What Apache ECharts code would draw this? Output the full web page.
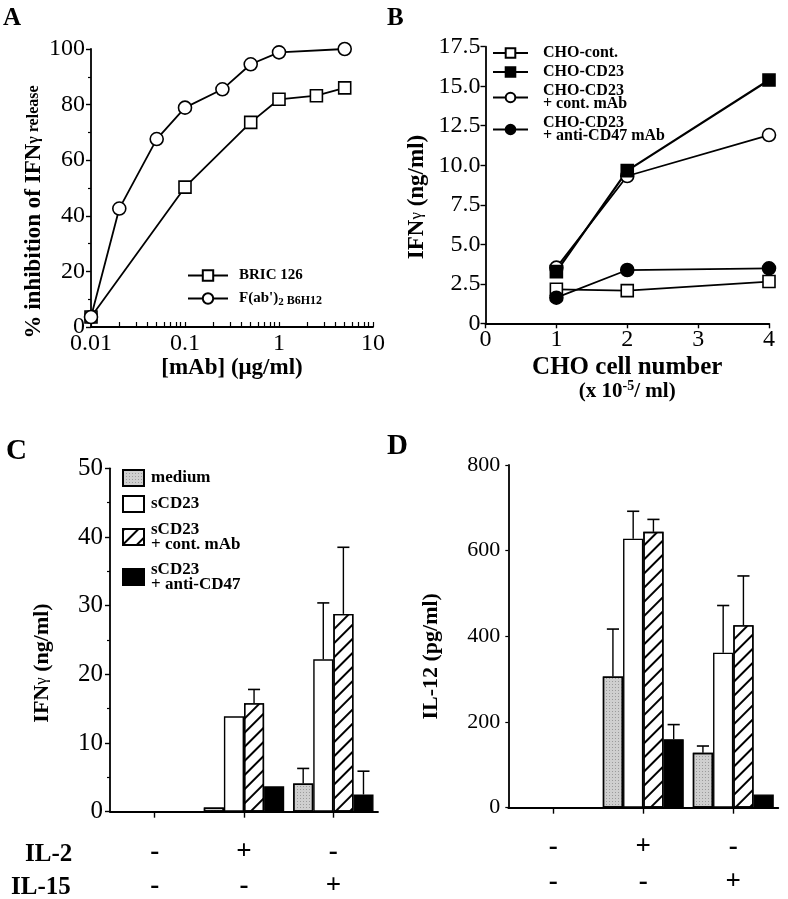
<!DOCTYPE html>
<html><head><meta charset="utf-8">
<script src="https://cdn.jsdelivr.net/npm/echarts@6/dist/echarts.min.js"></script>
<style>html,body{margin:0;padding:0;background:#fff}#c{width:788px;height:899px}</style>
</head><body><div id="c"></div>
<script>
// ---------- Panel A ----------
const aConcBric = [0.01, 0.1, 0.5, 1, 2.5, 5];
const aBric = [3.6, 50.3, 73.6, 81.9, 83.2, 86.0];
const aConcFab = [0.01, 0.02, 0.05, 0.1, 0.25, 0.5, 1, 5];
const aFab = [3.6, 42.6, 67.6, 78.9, 85.5, 94.5, 98.8, 100];
const aXTicks = [0.01,0.02,0.03,0.04,0.05,0.06,0.07,0.08,0.09,0.1,0.2,0.3,0.4,0.5,0.6,0.7,0.8,0.9,1,2,3,4,5,6,7,8,9,10];
// ---------- Panel B ----------
const bCells = [1, 2, 4];
const bChoCont = [2.15, 2.07, 2.64];
const bChoCD23 = [3.27, 9.66, 15.39];
const bChoCD23Cont = [3.52, 9.32, 11.91];
const bChoCD23Anti = [1.62, 3.37, 3.48];
// ---------- Panels C, D ----------
const il2 = ['-', '+', '-'];
const il15 = ['-', '-', '+'];
const cMedium = [0, 0.6, 4.1];   const cMediumErr = [null, null, 6.3];
const cSCD23 = [0, 13.9, 22.2];  const cSCD23Err = [null, null, 30.4];
const cCont = [0, 15.8, 28.8];   const cContErr = [null, 17.8, 38.5];
const cAnti = [0, 3.7, 2.5];     const cAntiErr = [null, null, 5.9];
const dMedium = [0, 306, 128];   const dMediumErr = [null, 417, 144];
const dSCD23 = [0, 628, 362];    const dSCD23Err = [null, 692, 472];
const dCont = [0, 644, 426];     const dContErr = [null, 673, 541];
const dAnti = [0, 160, 31];      const dAntiErr = [null, 194, null];

const SERIF = '"Liberation Serif","Times New Roman",serif';
const K = '#000';
const chart = echarts.init(document.getElementById('c'), null, {renderer: 'canvas'});

function pairs(xs, ys) { return xs.map((x, i) => [x, ys[i]]); }
const cats = il2.map((s, i) => s + '\n' + il15[i]);

const barNames = ['medium', 'sCD23', 'sCD23 + cont. mAb', 'sCD23 + anti-CD47'];
const barStyles = [
  {color: '#cfcfcf', borderColor: K, borderWidth: 1.4,
   decal: {symbol: 'rect', symbolSize: 1, dashArrayX: [1, 2], dashArrayY: [1, 2], rotation: 0, color: 'rgba(90,90,90,0.45)'}},
  {color: '#fff', borderColor: K, borderWidth: 1.4},
  {color: '#fff', borderColor: K, borderWidth: 1.4,
   decal: {symbol: 'rect', symbolSize: 1, dashArrayX: [1, 0], dashArrayY: [1.6, 8], rotation: -Math.PI / 4, color: '#000'}},
  {color: '#000', borderColor: K, borderWidth: 1.4}
];
function barSeries(ax, vals) {
  return vals.map((v, i) => ({
    type: 'bar', name: barNames[i], xAxisIndex: ax, yAxisIndex: ax, data: v,
    barGap: '0%', barCategoryGap: '10%', itemStyle: barStyles[i], silent: true
  }));
}
function errSeries(ax, vals, errs) {
  const data = [];
  errs.forEach((e, bi) => e.forEach((t, ci) => { if (t != null) data.push([ci, vals[bi][ci], t, bi]); }));
  return {
    type: 'custom', xAxisIndex: ax, yAxisIndex: ax, data: data, silent: true, z: 5,
    encode: {x: 0, y: [1, 2]},
    renderItem: function (params, api) {
      const ci = api.value(0), v = api.value(1), t = api.value(2), bi = api.value(3);
      const bw = api.size([1, 0])[0] * 0.9 / 4;
      const p0 = api.coord([ci, v]), p1 = api.coord([ci, t]);
      const x = p0[0] + (bi - 1.5) * bw;
      const cap = bw * 0.6;
      return {type: 'group', children: [
        {type: 'line', shape: {x1: x, y1: p0[1], x2: x, y2: p1[1]}, style: {stroke: K, lineWidth: 1.4}},
        {type: 'line', shape: {x1: x - cap / 2, y1: p1[1], x2: x + cap / 2, y2: p1[1]}, style: {stroke: K, lineWidth: 1.6}}
      ]};
    }
  };
}

const axLine = {show: true, lineStyle: {color: K, width: 1.8}};
const tickOut = {show: true, length: 5, lineStyle: {color: K, width: 1.4}};
function tickLbl(sz, extra) { return Object.assign({color: K, fontFamily: SERIF, fontSize: sz, showMinLabel: true, showMaxLabel: true, hideOverlap: false}, extra || {}); }
const nameStyle = (sz) => ({color: K, fontFamily: SERIF, fontWeight: 'bold', fontSize: sz});

const option = {
  animation: false,
  backgroundColor: '#fff',
  title: [
    {text: 'A', left: 3, top: 6, padding: 0, textStyle: {fontFamily: SERIF, fontWeight: 'bold', fontSize: 25, color: K}},
    {text: 'B', left: 387, top: 6, padding: 0, textStyle: {fontFamily: SERIF, fontWeight: 'bold', fontSize: 25, color: K}},
    {text: 'C', left: 6, top: 437, padding: 0, textStyle: {fontFamily: SERIF, fontWeight: 'bold', fontSize: 29, color: K}},
    {text: 'D', left: 387, top: 432, padding: 0, textStyle: {fontFamily: SERIF, fontWeight: 'bold', fontSize: 29, color: K}}
  ],
  graphic: [
    {type: 'text', left: 25, top: 842, style: {text: 'IL-2', font: 'bold 25px ' + SERIF, fill: K}},
    {type: 'text', left: 11, top: 875, style: {text: 'IL-15', font: 'bold 25px ' + SERIF, fill: K}}
  ],
  legend: [
    {data: ['BRIC 126', "F(ab')2 B6H12"], orient: 'vertical', left: 187, top: 268, padding: 0, itemGap: 8,
     itemWidth: 40, itemHeight: 13, selectedMode: false,
     formatter: n => n === "F(ab')2 B6H12" ? "F(ab'){sub|2}{sm| B6H12}" : n,
     textStyle: {fontFamily: SERIF, fontWeight: 'bold', fontSize: 15, color: K, padding: [0, 0, 0, 6],
       rich: {sub: {fontFamily: SERIF, fontWeight: 'bold', fontSize: 11, color: K, padding: [8, 0, 0, 0]},
              sm: {fontFamily: SERIF, fontWeight: 'bold', fontSize: 12, color: K, padding: [4, 0, 0, 0]}}}},
    {data: ['CHO-cont.', 'CHO-CD23', 'CHO-CD23 + cont. mAb', 'CHO-CD23 + anti-CD47 mAb'], orient: 'vertical',
     left: 492, top: 45, padding: 0, itemGap: 3, itemWidth: 35, itemHeight: 12, selectedMode: false,
     formatter: n => n.replace(' + ', '\n+ '),
     textStyle: {fontFamily: SERIF, fontWeight: 'bold', fontSize: 16, lineHeight: 13, color: K, padding: [0, 0, 0, 10]}},
    {data: barNames, orient: 'vertical', left: 122, top: 469, padding: 0, itemGap: 8, itemWidth: 21, itemHeight: 16,
     icon: 'rect', selectedMode: false,
     formatter: n => n.replace(' + ', '\n+ '),
     textStyle: {fontFamily: SERIF, fontWeight: 'bold', fontSize: 17, lineHeight: 15, color: K, padding: [0, 0, 0, 2]}}
  ],
  grid: [
    {left: 91, top: 49, width: 282, height: 278, containLabel: false, outerBoundsMode: 'none'},
    {left: 485.5, top: 46.7, width: 283.5, height: 276.6, containLabel: false, outerBoundsMode: 'none'},
    {left: 110, top: 468.3, width: 268, height: 343.4, containLabel: false, outerBoundsMode: 'none'},
    {left: 508.3, top: 465, width: 270, height: 342.7, containLabel: false, outerBoundsMode: 'none'}
  ],
  xAxis: [
    {gridIndex: 0, type: 'log', logBase: 10, min: 0.01, max: 10, axisLine: axLine,
     axisTick: {show: true, inside: true, length: 5, customValues: aXTicks, lineStyle: {color: K, width: 1.2}},
     axisLabel: tickLbl(24, {margin: 5}), splitLine: {show: false},
     name: '[mAb] (μg/ml)', nameLocation: 'middle', nameGap: 25, nameTextStyle: nameStyle(23)},
    {gridIndex: 1, type: 'value', min: 0, max: 4, interval: 1, axisLine: axLine, axisTick: tickOut,
     axisLabel: tickLbl(24, {margin: 4}), splitLine: {show: false},
     name: '{t|CHO cell number}\n{s|(x 10}{sup|-5}{s|/ ml)}', nameLocation: 'middle', nameGap: 32,
     nameTextStyle: {color: K, fontFamily: SERIF, fontWeight: 'bold', verticalAlign: 'top', rich: {
       t: {fontFamily: SERIF, fontWeight: 'bold', fontSize: 25, color: K, lineHeight: 24},
       s: {fontFamily: SERIF, fontWeight: 'bold', fontSize: 21, color: K, lineHeight: 24},
       sup: {fontFamily: SERIF, fontWeight: 'bold', fontSize: 14, color: K, padding: [0, 0, 10, 0], lineHeight: 24}}}},
    {gridIndex: 2, type: 'category', data: cats, axisLine: axLine,
     axisTick: {show: true, alignWithLabel: true, length: 6, lineStyle: {color: K, width: 1.4}},
     axisLabel: tickLbl(27, {fontWeight: 'bold', lineHeight: 34, margin: 23, interval: 0})},
    {gridIndex: 3, type: 'category', data: cats, axisLine: axLine,
     axisTick: {show: true, alignWithLabel: true, length: 6, lineStyle: {color: K, width: 1.4}},
     axisLabel: tickLbl(27, {fontWeight: 'bold', lineHeight: 35, margin: 22, interval: 0})}
  ],
  yAxis: [
    {gridIndex: 0, type: 'value', min: 0, max: 100, interval: 20, axisLine: axLine, axisTick: tickOut,
     minorTick: {show: true, splitNumber: 2, length: 3, lineStyle: {color: K, width: 1.2}},
     axisLabel: tickLbl(24, {margin: 6}), splitLine: {show: false},
     name: '{a|% inhibition of IFN}{b|γ release}', nameLocation: 'middle', nameGap: 45, nameRotate: 90,
     nameTextStyle: {padding: [0, 48, 0, 0], rich: {
       a: {fontFamily: SERIF, fontWeight: 'bold', fontSize: 23, color: K},
       b: {fontFamily: SERIF, fontWeight: 'bold', fontSize: 16, color: K}}}},
    {gridIndex: 1, type: 'value', min: 0, max: 17.5, interval: 2.5, axisLine: axLine, axisTick: tickOut,
     axisLabel: tickLbl(24, {margin: 5, formatter: v => v === 0 ? '0' : v.toFixed(1)}), splitLine: {show: false},
     name: '{a|IFN}{b|γ}{a| (ng/ml)}', nameLocation: 'middle', nameGap: 57, nameRotate: 90,
     nameTextStyle: {padding: [0, 24, 0, 0], rich: {
       a: {fontFamily: SERIF, fontWeight: 'bold', fontSize: 23, color: K},
       b: {fontFamily: SERIF, fontSize: 17, color: K}}}},
    {gridIndex: 2, type: 'value', min: 0, max: 50, interval: 10, axisLine: axLine, axisTick: tickOut,
     minorTick: {show: true, splitNumber: 2, length: 3, lineStyle: {color: K, width: 1.2}},
     axisLabel: tickLbl(25, {margin: 7}), splitLine: {show: false},
     name: '{a|IFN}{b|γ}{a| (ng/ml)}', nameLocation: 'middle', nameGap: 57, nameRotate: 90,
     nameTextStyle: {padding: [0, 46, 0, 0], rich: {
       a: {fontFamily: SERIF, fontWeight: 'bold', fontSize: 22, color: K},
       b: {fontFamily: SERIF, fontSize: 17, color: K}}}},
    {gridIndex: 3, type: 'value', min: 0, max: 800, interval: 200, axisLine: axLine,
     axisTick: {show: true, length: 3, lineStyle: {color: K, width: 1.2}},
     axisLabel: tickLbl(22, {margin: 8}), splitLine: {show: false},
     name: 'IL-12 (pg/ml)', nameLocation: 'middle', nameGap: 66, nameRotate: 90,
     nameTextStyle: {padding: [0, 40, 0, 0], fontFamily: SERIF, fontWeight: 'bold', fontSize: 22, color: K}}
  ],
  series: [
    {type: 'line', name: 'BRIC 126', xAxisIndex: 0, yAxisIndex: 0, data: pairs(aConcBric, aBric),
     symbol: 'rect', symbolSize: 12, lineStyle: {color: K, width: 1.8},
     itemStyle: {color: '#fff', borderColor: K, borderWidth: 1.6}, z: 3},
    {type: 'line', name: "F(ab')2 B6H12", xAxisIndex: 0, yAxisIndex: 0, data: pairs(aConcFab, aFab),
     symbol: 'circle', symbolSize: 13, lineStyle: {color: K, width: 1.8},
     itemStyle: {color: '#fff', borderColor: K, borderWidth: 1.6}, z: 4},
    {type: 'line', name: 'CHO-cont.', xAxisIndex: 1, yAxisIndex: 1, data: pairs(bCells, bChoCont),
     symbol: 'rect', symbolSize: 12, lineStyle: {color: K, width: 1.8},
     itemStyle: {color: '#fff', borderColor: K, borderWidth: 1.6}},
    {type: 'line', name: 'CHO-CD23 + cont. mAb', xAxisIndex: 1, yAxisIndex: 1, data: pairs(bCells, bChoCD23Cont),
     symbol: 'circle', symbolSize: 13, lineStyle: {color: K, width: 1.8},
     itemStyle: {color: '#fff', borderColor: K, borderWidth: 1.6}},
    {type: 'line', name: 'CHO-CD23', xAxisIndex: 1, yAxisIndex: 1, data: pairs(bCells, bChoCD23),
     symbol: 'rect', symbolSize: 12, lineStyle: {color: K, width: 2.2},
     itemStyle: {color: K, borderColor: K, borderWidth: 1.6}},
    {type: 'line', name: 'CHO-CD23 + anti-CD47 mAb', xAxisIndex: 1, yAxisIndex: 1, data: pairs(bCells, bChoCD23Anti),
     symbol: 'circle', symbolSize: 13, lineStyle: {color: K, width: 1.8},
     itemStyle: {color: K, borderColor: K, borderWidth: 1.6}},
    ...barSeries(2, [cMedium, cSCD23, cCont, cAnti]),
    errSeries(2, [cMedium, cSCD23, cCont, cAnti], [cMediumErr, cSCD23Err, cContErr, cAntiErr]),
    ...barSeries(3, [dMedium, dSCD23, dCont, dAnti]),
    errSeries(3, [dMedium, dSCD23, dCont, dAnti], [dMediumErr, dSCD23Err, dContErr, dAntiErr])
  ]
};
chart.setOption(option);
</script></body></html>
